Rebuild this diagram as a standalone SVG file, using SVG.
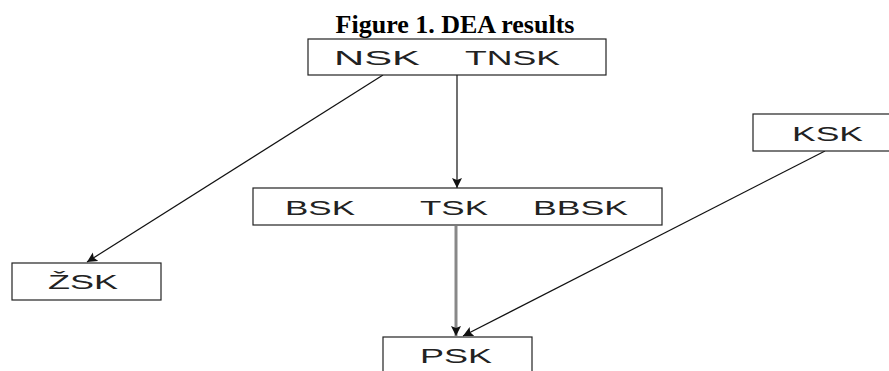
<svg xmlns="http://www.w3.org/2000/svg" width="889" height="371" viewBox="0 0 889 371">
<style>
.box{fill:#fff;stroke:#222;stroke-width:1.2}
.t{font-family:"Liberation Sans",Arial,sans-serif;font-size:21px;fill:#222}
.ttl{font-family:"Liberation Serif","Times New Roman",serif;font-size:26px;font-weight:bold;fill:#000}
.c{stroke:#111;stroke-width:1.2;fill:none}
</style>
<defs>
<marker id="ah" viewBox="0 0 10 10" refX="10" refY="5" markerWidth="10" markerHeight="11" markerUnits="userSpaceOnUse" orient="auto">
<path d="M0,0 L10,5 L0,10 L2,5 Z" fill="#111"/>
</marker>
</defs>
<rect width="889" height="371" fill="#fff"/>
<text class="ttl" x="455" y="33" text-anchor="middle">Figure 1. DEA results</text>
<g id="connectors">
<line class="c" x1="457" y1="75" x2="457" y2="188" marker-end="url(#ah)"/>
<line class="c" x1="383" y1="75" x2="87" y2="262" marker-end="url(#ah)"/>
<line x1="456" y1="226" x2="456" y2="336" stroke="#888" stroke-width="3" marker-end="url(#ah)"/>
<line class="c" x1="825" y1="151" x2="463" y2="336" marker-end="url(#ah)"/>
</g>
<g id="n-nsk">
<rect class="box" x="308" y="39" width="298" height="36"/>
<text class="t" x="334" y="65" textLength="86" lengthAdjust="spacingAndGlyphs">NSK</text>
<text class="t" x="465" y="65" textLength="95" lengthAdjust="spacingAndGlyphs">TNSK</text>
</g>
<g id="n-bsk">
<rect class="box" x="253" y="188" width="409" height="37"/>
<text class="t" x="285" y="215" textLength="70" lengthAdjust="spacingAndGlyphs">BSK</text>
<text class="t" x="420" y="215" textLength="68" lengthAdjust="spacingAndGlyphs">TSK</text>
<text class="t" x="533" y="215" textLength="95" lengthAdjust="spacingAndGlyphs">BBSK</text>
</g>
<g id="n-ksk">
<rect class="box" x="753" y="114" width="140" height="37"/>
<text class="t" x="792" y="141" textLength="71" lengthAdjust="spacingAndGlyphs">KSK</text>
</g>
<g id="n-zsk">
<rect class="box" x="12" y="263" width="149" height="37"/>
<text class="t" x="48" y="289" textLength="70" lengthAdjust="spacingAndGlyphs">ŽSK</text>
</g>
<g id="n-psk">
<rect class="box" x="383" y="337" width="149" height="40"/>
<text class="t" x="420" y="363" textLength="72" lengthAdjust="spacingAndGlyphs">PSK</text>
</g>
</svg>
